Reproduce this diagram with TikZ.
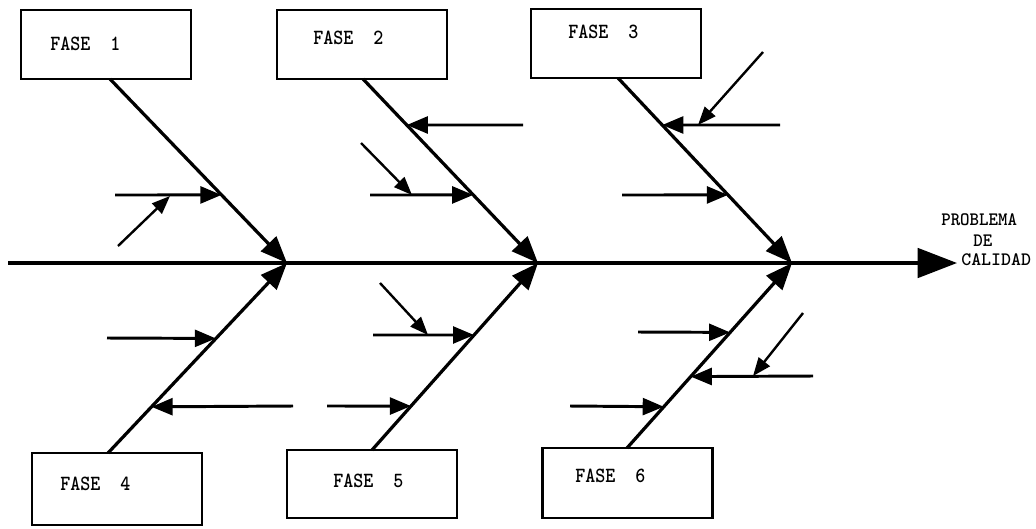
\documentclass[tikz,border=0pt]{standalone}
\usepackage{fontspec}
\usetikzlibrary{arrows.meta,calc}
\newcommand{\tallcaps}[2][1]{\scalebox{#1}[1.1]{#2}}
\begin{document}
\begin{tikzpicture}[x=0.025cm,y=-0.025cm,
  phasebox/.style={draw, line width=1.8pt, inner sep=0pt, minimum width=4.25cm},
  phasetext/.style={anchor=west, inner sep=0pt, font=\fontsize{14}{16}\selectfont\ttfamily\bfseries},
  goaltext/.style={anchor=west, inner sep=0pt, font=\fontsize{13.5}{16}\selectfont\ttfamily\bfseries},
  spine/.style={line width=2.3pt, -{Triangle[length=28pt,width=21pt]}},
  bone/.style={line width=2.3pt, -{Triangle[length=19pt,width=15pt]}},
  rib/.style={line width=2.1pt, -{Triangle[length=15pt,width=12pt]}},
  twig/.style={line width=1.7pt, -{Triangle[length=13pt,width=10pt]}}]
\useasboundingbox (0,0) rectangle (1036,528);

% phase boxes
\node[phasebox, minimum height=1.725cm] (b1) at (106,44.5) {};
\node[phasebox, minimum height=1.725cm] (b2) at (362,44.5) {};
\node[phasebox, minimum height=1.725cm] (b3) at (616,43.5) {};
\node[phasebox, minimum height=1.8cm]   (b4) at (117,489) {};
\node[phasebox, minimum height=1.7cm]   (b5) at (372,484) {};
\node[phasebox, minimum height=1.75cm]  (b6) at (627.5,483) {};

\node[phasetext] (t1) at (50,44)  {\tallcaps[0.97]{FASE~~1}};
\node[phasetext] (t2) at (313,38) {\tallcaps[0.97]{FASE~~2}};
\node[phasetext] (t3) at (568,32) {\tallcaps[0.97]{FASE~~3}};
\node[phasetext] (t4) at (60,484) {\tallcaps[0.97]{FASE~~4}};
\node[phasetext] (t5) at (333,481) {\tallcaps[0.97]{FASE~~5}};
\node[phasetext] (t6) at (575,476) {\tallcaps[0.97]{FASE~~6}};

% effect label
\node[goaltext] (g1) at (941,220) {\scalebox{0.95}[1]{PROBLEMA}};
\node[goaltext] (g2) at (973,241) {\scalebox{0.95}[1]{DE}};
\node[goaltext] (g3) at (961,260) {CALIDAD};

% main spine
\coordinate (tail) at (8,263);
\coordinate (head) at (957,263);
\coordinate (h1) at (287,263);
\coordinate (h2) at (538,263);
\coordinate (h3) at (792,263);
\draw[spine] (tail) -- (head);

% bone start points on the boxes
\coordinate (s1) at (110,79);
\coordinate (s2) at (363,79);
\coordinate (s3) at (618,78);
\coordinate (s4) at (108,453);
\coordinate (s5) at (372,450);
\coordinate (s6) at (627,448);

\draw[bone] (s1) -- (h1);
\draw[bone] (s2) -- (h2);
\draw[bone] (s3) -- (h3);
\draw[bone] (s4) -- (h1);
\draw[bone] (s5) -- (h2);
\draw[bone] (s6) -- (h3);

% points where the ribs meet the bones
\coordinate (k1a) at ($(s1)!0.63!(h1)$);
\coordinate (k2a) at ($(s2)!0.25!(h2)$);
\coordinate (k2b) at ($(s2)!0.63!(h2)$);
\coordinate (k3a) at ($(s3)!0.254!(h3)$);
\coordinate (k3b) at ($(s3)!0.632!(h3)$);
\coordinate (k4a) at ($(s4)!0.603!(h1)$);
\coordinate (k4b) at ($(s4)!0.243!(h1)$);
\coordinate (k5a) at ($(s5)!0.615!(h2)$);
\coordinate (k5b) at ($(s5)!0.235!(h2)$);
\coordinate (k6a) at ($(s6)!0.625!(h3)$);
\coordinate (k6b) at ($(s6)!0.386!(h3)$);
\coordinate (k6c) at ($(s6)!0.223!(h3)$);

% rib tails
\coordinate (r1a) at (115,195);
\coordinate (r2a) at (523,125);
\coordinate (r2b) at (370,195);
\coordinate (r3a) at (780,125);
\coordinate (r3b) at (622,195);
\coordinate (r4a) at (107,338);
\coordinate (r4b) at (293,406);
\coordinate (r5a) at (373,335);
\coordinate (r5b) at (327,406);
\coordinate (r6a) at (638,332);
\coordinate (r6b) at (813,376);
\coordinate (r6c) at (570,406);

\draw[rib] (r1a) -- (k1a);
\draw[rib] (r2a) -- (k2a);
\draw[rib] (r2b) -- (k2b);
\draw[rib] (r3a) -- (k3a);
\draw[rib] (r3b) -- (k3b);
\draw[rib] (r4a) -- (k4a);
\draw[rib] (r4b) -- (k4b);
\draw[rib] (r5a) -- (k5a);
\draw[rib] (r5b) -- (k5b);
\draw[rib] (r6a) -- (k6a);
\draw[rib] (r6b) -- (k6b);
\draw[rib] (r6c) -- (k6c);

% secondary causes pointing onto the ribs
\coordinate (u1) at (118,246);  \coordinate (v1) at (170,196);
\coordinate (u2) at (361,143);  \coordinate (v2) at (412,195);
\coordinate (u3) at (763,52);   \coordinate (v3) at (698,125);
\coordinate (u5) at (380,283);  \coordinate (v5) at (428,335);
\coordinate (u6) at (803,313);  \coordinate (v6) at (753,376);
\draw[twig] (u1) -- (v1);
\draw[twig] (u2) -- (v2);
\draw[twig] (u3) -- (v3);
\draw[twig] (u5) -- (v5);
\draw[twig] (u6) -- (v6);
\end{tikzpicture}
\end{document}
